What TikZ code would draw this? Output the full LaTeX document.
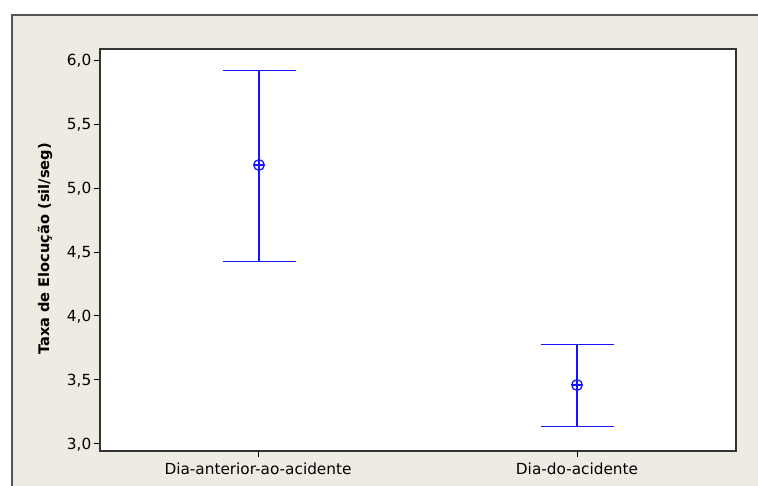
\documentclass[tikz,border=0pt]{standalone}
\usepackage{fontspec}
\setmainfont{DejaVu Sans}
\definecolor{bgbeige}{RGB}{238,235,226}
\definecolor{framegray}{RGB}{85,85,85}
\definecolor{barblue}{RGB}{20,20,255}
\begin{document}
\begin{tikzpicture}[x=1pt,y=-1pt,
  ticklab/.style={font=\fontsize{15.3}{17}\selectfont, inner sep=0pt},
  axlab/.style={font=\fontsize{14.6}{16}\selectfont\bfseries, inner sep=0pt},
  bar/.style={draw=barblue, line width=1.7pt},
  axis/.style={draw=black!80, line width=1.2pt}]
\useasboundingbox (0,0) rectangle (758,486);
% outer frame
\fill[bgbeige] (12,15) rectangle (770,500);
\draw[framegray, line width=1.5pt] (12,500) -- (12,15) -- (770,15);
% plot area
\fill[white] (100,49) rectangle (736,451);
\draw[axis] (100,49) rectangle (736,451);
% y ticks: y(v) = 60 + (6-v)*127.67
\foreach \v/\lab [count=\i] in {6.0/{6,0},5.5/{5,5},5.0/{5,0},4.5/{4,5},4.0/{4,0},3.5/{3,5},3.0/{3,0}}{
  \pgfmathsetmacro{\yy}{60.5+(6-\v)*127.67}
  \draw[black, line width=1pt] (94,\yy) -- (100,\yy);
  \node[ticklab, anchor=base east] (yt\i) at (91.5,\yy+5.5) {\lab};
}
% x ticks
\draw[black, line width=1pt] (258.5,451) -- (258.5,457);
\draw[black, line width=1pt] (577.5,451) -- (577.5,457);
\node[ticklab, anchor=base] (xt1) at (258,474) {Dia-anterior-ao-acidente};
\node[ticklab, anchor=base] (xt2) at (577,474) {Dia-do-acidente};
% y axis label
\node[axlab, rotate=90] (ylab) at (45,249) {Taxa de Elocução (sil/seg)};
% interval 1
\coordinate (t1) at (259,70.5);
\coordinate (b1) at (259,261.5);
\coordinate (m1) at (259,165);
\draw[bar] (t1) -- (b1);
\draw[bar] ([xshift=-36.5pt]t1) -- ([xshift=36.5pt]t1);
\draw[bar] ([xshift=-36.5pt]b1) -- ([xshift=36.5pt]b1);
\draw[bar, line width=1.3pt] (m1) circle (5.3pt);
\draw[bar, line width=1.3pt] ([xshift=-5.3pt]m1) -- ([xshift=5.3pt]m1);
% interval 2
\coordinate (t2) at (577,344.5);
\coordinate (b2) at (577,426.5);
\coordinate (m2) at (577,385);
\draw[bar] (t2) -- (b2);
\draw[bar] ([xshift=-36.5pt]t2) -- ([xshift=36.5pt]t2);
\draw[bar] ([xshift=-36.5pt]b2) -- ([xshift=36.5pt]b2);
\draw[bar, line width=1.3pt] (m2) circle (5.3pt);
\draw[bar, line width=1.3pt] ([xshift=-5.3pt]m2) -- ([xshift=5.3pt]m2);
\end{tikzpicture}
\end{document}
